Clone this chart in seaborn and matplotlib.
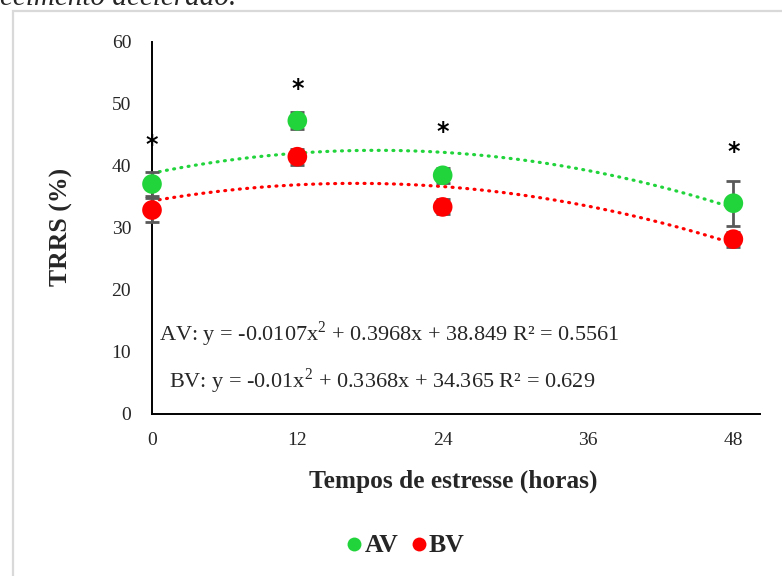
import numpy as np
import pandas as pd
import matplotlib
matplotlib.use("Agg")
import matplotlib.pyplot as plt
from matplotlib.lines import Line2D
from matplotlib.patches import Rectangle
import seaborn as sns

# ---- data ----
hours = [0, 12, 24, 48]
av_values = [37.1, 47.3, 38.5, 34.0]
av_errors = [2.0, 1.4, 1.2, 3.6]
bv_values = [32.9, 41.5, 33.4, 28.2]
bv_errors = [2.0, 1.3, 1.2, 1.2]
star_heights = [43.4, 52.4, 45.5, 42.3]
av_coef = [-0.0107, 0.3968, 38.849]
bv_coef = [-0.01, 0.3368, 34.365]
av_eq = "AV: y = -0.0107x$^2$ + 0.3968x + 38.849 R² = 0.5561"
bv_eq = "BV: y = -0.01x$^2$ + 0.3368x + 34.365 R² = 0.629"
x_ticks = [0, 12, 24, 36, 48]
y_ticks = [0, 10, 20, 30, 40, 50, 60]
series_names = ["AV", "BV"]
colors = {"AV": "#22d43c", "BV": "#ff0000"}

sns.set_style("white")
plt.rcParams["font.family"] = ["Liberation Serif", "DejaVu Serif"]
plt.rcParams["mathtext.fontset"] = "custom"
plt.rcParams["mathtext.rm"] = "Liberation Serif"

W, H = 782, 576
fig = plt.figure(figsize=(W / 100, H / 100), dpi=100)
ax = fig.add_axes([152 / W, 1 - 414 / H, (760 - 152) / W, (414 - 42) / H])

df = pd.DataFrame({
    "hours": hours * 2,
    "value": av_values + bv_values,
    "err": av_errors + bv_errors,
    "series": ["AV"] * len(hours) + ["BV"] * len(hours),
})

# trendlines
xs = np.linspace(0, 48, 200)
trend = pd.DataFrame({
    "x": np.concatenate([xs, xs]),
    "y": np.concatenate([np.polyval(av_coef, xs), np.polyval(bv_coef, xs)]),
    "series": ["AV"] * len(xs) + ["BV"] * len(xs),
})
for s in series_names:
    sub = trend[trend.series == s]
    ax.plot(sub.x, sub.y, color=colors[s], lw=2.3, linestyle=(0, (0.3, 2.0)),
            dash_capstyle="round", zorder=2, clip_on=False)

# error bars
for s in series_names:
    sub = df[df.series == s]
    ax.errorbar(sub.hours, sub.value, yerr=sub.err, fmt="none", ecolor="#595959",
                elinewidth=2, capsize=5, capthick=2, zorder=3, clip_on=False)

sns.scatterplot(data=df, x="hours", y="value", hue="series", palette=colors,
                s=200, edgecolor="none", legend=False, ax=ax, zorder=4, clip_on=False)

for x, y in zip(hours, star_heights):
    ax.text(x, y, "*", ha="center", va="center", fontsize=17, color="black",
            family="DejaVu Sans", fontweight="bold", zorder=5)

ax.text(0.6, 12.9, av_eq, fontsize=16, va="center", ha="left")
ax.text(1.4, 5.3, bv_eq, fontsize=16, va="center", ha="left")

ax.set_xlim(0, 50.2)
ax.set_ylim(0, 60)
ax.set_xticks(x_ticks)
ax.set_yticks(y_ticks)
ax.tick_params(axis="both", length=0, labelsize=14)
ax.tick_params(axis="y", pad=15)
ax.tick_params(axis="x", pad=13)
for sp in ["top", "right"]:
    ax.spines[sp].set_visible(False)
for sp in ["left", "bottom"]:
    ax.spines[sp].set_color("black")
    ax.spines[sp].set_linewidth(1.4)
ax.set_xlabel("")
ax.set_ylabel("")

fig.text(61 / W, 1 - 227 / H, "TRRS (%)", rotation=90, ha="center", va="center",
         fontsize=18.5, fontweight="bold")
fig.text(453 / W, 1 - 481 / H, "Tempos de estresse (horas)", ha="center", va="center",
         fontsize=18.3, fontweight="bold")

handles = [Line2D([], [], marker="o", linestyle="none", markersize=10,
                  markerfacecolor=colors[s], markeredgecolor="none", label=s)
           for s in series_names]
fig.legend(handles=handles, loc="center", bbox_to_anchor=(403 / W, 1 - 546 / H), ncol=2,
           frameon=False, handletextpad=-0.1, columnspacing=0.3, handlelength=1.0,
           prop={"family": "Liberation Serif", "weight": "bold", "size": 18.5})

fig.add_artist(Rectangle((13 / W, -0.1), 1.2, 1 - 11 / H + 0.1, transform=fig.transFigure,
                         fill=False, edgecolor="#d9d9d9", lw=1.6))
fig.text(0 / W, 1 - 5 / H, "ecimento acelerado.", ha="left", va="baseline",
         fontsize=21, style="italic")

fig.savefig("out.png", dpi=100)
